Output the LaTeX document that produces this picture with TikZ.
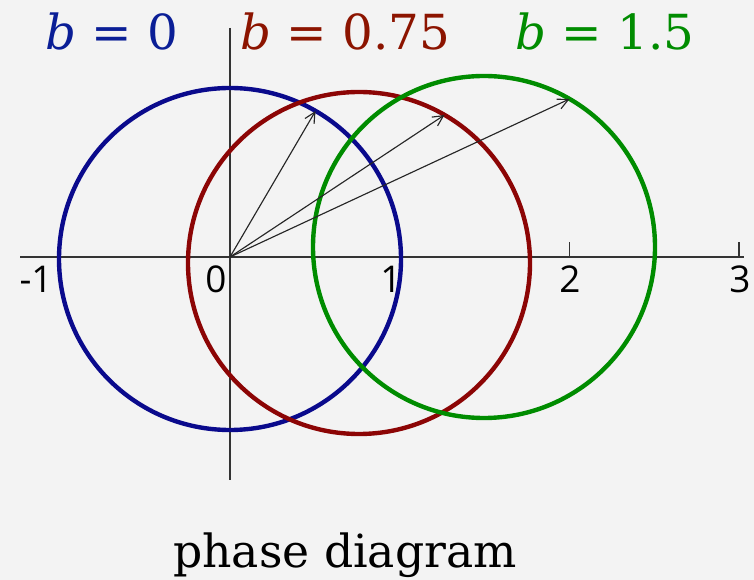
\documentclass[tikz,border=0pt]{standalone}
\usepackage{fontspec}
\setmainfont{DejaVu Serif}
\newfontfamily\ticksfont{Open Sans}
\usetikzlibrary{arrows.meta,calc}
\definecolor{bgray}   {RGB}{243,243,243}
\definecolor{cblue}   {RGB}{ 10, 10,140}
\definecolor{cred}    {RGB}{140,  5,  5}
\definecolor{cgreen}  {RGB}{  0,140,  0}
\definecolor{tblue}   {RGB}{ 10, 30,150}
\definecolor{tred}    {RGB}{140, 20,  0}
\tikzset{
  axis/.style={draw=black!80,line width=0.7pt},
  ring/.style={line width=2.5pt},
  vec/.style={-{Straight Barb[length=6pt,width=6pt]},draw=black!85,line width=0.65pt},
  ticklbl/.style={font=\ticksfont\fontsize{21}{21}\selectfont,inner sep=0pt},
  blbl/.style={font=\fontsize{27.5}{27.5}\selectfont,anchor=base west,inner sep=0pt},
}
\begin{document}
\begin{tikzpicture}[x=0.02cm,y=-0.02cm]
  \fill[bgray] (0,0) rectangle (754,580);
  \useasboundingbox (0,0) rectangle (754,580);
  % axes
  \coordinate (o) at (230,257);
  \coordinate (xl) at (20,257);
  \coordinate (xr) at (744,257);
  \coordinate (yt) at (230,28);
  \coordinate (yb) at (230,480);
  \draw[axis] (xl)--(xr);
  \draw[axis] (yt)--(yb);
  \draw[axis] (569.5,257)--++(0,-15);
  \draw[axis] (739,257)--++(0,-15);
  \foreach \lbl/\x in {-1/36,0/216,1/391,2/570,3/740}
    \node[ticklbl] (t\x) at (\x,279) {\lbl};
  % circles
  \coordinate (cb) at (230,259);
  \coordinate (cr) at (359,263);
  \coordinate (cg) at (484,247);
  \draw[ring,cblue]  (cb) circle (171);
  \draw[ring,cred]   (cr) circle (171);
  \draw[ring,cgreen] (cg) circle (171);
  % phasors
  \coordinate (pb) at ($(cb)+(85.5,-148)$);
  \coordinate (pr) at ($(cr)+(85.5,-148)$);
  \coordinate (pg) at ($(cg)+(85.5,-148)$);
  \draw[vec] (o)--(pb);
  \draw[vec] (o)--(pr);
  \draw[vec] (o)--(pg);
  % labels
  \node[blbl,text=tblue]  (lb) at (45,50)  {\textit{b} = 0};
  \node[blbl,text=tred]   (lr) at (240,50) {\textit{b} = 0.75};
  \node[blbl,text=cgreen] (lg) at (515,50) {\textit{b} = 1.5};
  \node[font=\fontsize{26}{26}\selectfont,anchor=base,inner sep=0pt] (cap) at (345,568) {phase diagram};
\end{tikzpicture}
\end{document}
